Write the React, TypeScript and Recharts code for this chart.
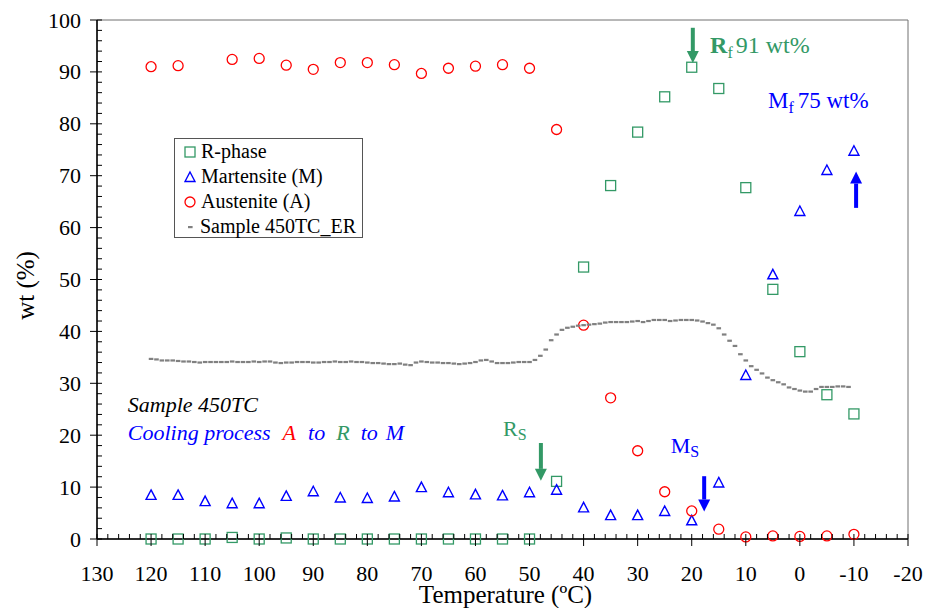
import React from 'react';
import {
  ScatterChart,
  Scatter,
  XAxis,
  YAxis,
  ReferenceArea,
  ReferenceDot,
  ReferenceLine,
  Legend,
} from 'recharts';

const FONT = '"Liberation Serif", "Times New Roman", serif';
const GREEN = '#339966';
const BLUE = '#0000ff';
const RED = '#ff0000';
const GRAY = '#808080';

// phase fractions, every 5 ºC on cooling
const temps = [120, 115, 110, 105, 100, 95, 90, 85, 80, 75, 70, 65, 60, 55, 50, 45, 40, 35, 30, 25, 20, 15, 10, 5, 0, -5, -10];
const rPhase = [0, 0, 0, 0.3, 0, 0.2, 0, 0, 0, 0, 0, 0, 0, 0, 0, 11.1, 52.4, 68.1, 78.4, 85.2, 90.9, 86.8, 67.7, 48.1, 36.1, 27.8, 24.1];
const martensite = [8.5, 8.5, 7.3, 6.9, 6.9, 8.3, 9.2, 8.0, 7.9, 8.2, 10.0, 9.0, 8.6, 8.4, 9.0, 9.5, 6.1, 4.6, 4.6, 5.4, 3.6, 10.9, 31.6, 51.0, 63.2, 71.1, 74.8];
const austenite = [91.0, 91.2, null, 92.4, 92.6, 91.3, 90.5, 91.8, 91.8, 91.4, 89.7, 90.7, 91.1, 91.4, 90.7, 78.9, 41.2, 27.2, 17.0, 9.1, 5.4, 1.9, 0.4, 0.6, 0.5, 0.6, 0.9];

// electrical resistance curve of sample 450TC_ER (scaled), 1 ºC steps from 120 down to -9
const erTemps = Array.from({ length: 130 }, (_, i) => 120 - i);
const erValues = [
  34.7, 34.6, 34.4, 34.4, 34.4, 34.3, 34.2, 34.2, 34.1, 34.0,
  34.1, 34.1, 34.1, 34.1, 34.1, 34.2, 34.1, 34.1, 34.1, 34.2,
  34.1, 34.2, 34.2, 34.0, 33.9, 34.0, 34.0, 34.1, 34.1, 34.1,
  34.0, 34.0, 34.1, 34.1, 34.2, 34.1, 34.1, 34.2, 34.1, 34.1,
  34.0, 33.9, 33.9, 33.8, 33.7, 33.7, 33.8, 33.6, 33.5, 34.0,
  34.2, 34.1, 34.0, 34.0, 33.9, 33.9, 33.8, 33.7, 33.8, 33.9,
  34.1, 34.4, 34.5, 34.2, 33.9, 33.9, 33.9, 34.0, 34.1, 34.1,
  34.1, 34.5, 35.3, 36.5, 38.3, 39.4, 40.3, 40.7, 40.9, 41.1,
  41.2, 41.3, 41.4, 41.5, 41.7, 41.8, 41.8, 41.8, 41.8, 41.9,
  42.0, 41.8, 42.0, 42.2, 42.2, 42.2, 42.0, 42.1, 42.2, 42.2,
  42.2, 42.1, 41.9, 41.6, 41.3, 40.6, 39.4, 38.2, 37.2, 35.6,
  34.4, 33.3, 32.6, 31.9, 31.1, 30.6, 30.2, 29.8, 29.2, 28.9,
  28.6, 28.4, 28.4, 28.9, 29.3, 29.3, 29.3, 29.4, 29.4, 29.3,
];

const xTicks = Array.from({ length: 76 }, (_, i) => -20 + 2 * i);
const yTicks = Array.from({ length: 51 }, (_, i) => 2 * i);

const rData = temps.map((t, i) => ({ t, v: rPhase[i] }));
const mData = temps.map((t, i) => ({ t, v: martensite[i] }));
const aData = temps.map((t, i) => ({ t, v: austenite[i] })).filter((d) => d.v !== null);
const erData = erTemps.map((t, i) => ({ t, v: erValues[i] }));

// annotation arrows: [x, from y, to y (tip)]
const arrows: [number, number, number, string][] = [
  [47.9, 18.5, 11.2, GREEN],
  [17.7, 12.1, 5.3, BLUE],
  [19.8, 98.5, 91.7, GREEN],
  [-10.4, 63.8, 70.8, BLUE],
];

const square = (p: any) => (
  <rect x={p.cx - 5} y={p.cy - 5} width={10} height={10} fill="none" stroke={GREEN} strokeWidth={1.3} />
);
const triangle = (p: any) => (
  <polygon
    points={`${p.cx},${p.cy - 5} ${p.cx + 5},${p.cy + 4.5} ${p.cx - 5},${p.cy + 4.5}`}
    fill="none"
    stroke={BLUE}
    strokeWidth={1.4}
  />
);
const circle = (p: any) => <circle cx={p.cx} cy={p.cy} r={5} fill="none" stroke={RED} strokeWidth={1.3} />;
const dash = (p: any) => <rect x={p.cx - 2.3} y={p.cy - 1.1} width={4.6} height={2.2} fill={GRAY} />;

function XTick(props: any) {
  const { x, y, payload } = props;
  const v = payload.value;
  if (v % 10 !== 0) return <line x1={x} x2={x} y1={y} y2={y - 5} stroke="#000" />;
  return (
    <g>
      <line x1={x} x2={x} y1={y - 5} y2={y + 7} stroke="#000" />
      <text x={x} y={y + 42} textAnchor="middle" fontSize={22} fontFamily={FONT} fill="#000">
        {v}
      </text>
    </g>
  );
}

function YTick(props: any) {
  const { x, y, payload } = props;
  const v = payload.value;
  if (v % 10 !== 0) return <line x1={x} x2={x + 5} y1={y} y2={y} stroke="#000" />;
  return (
    <g>
      <line x1={x - 7} x2={x + 5} y1={y} y2={y} stroke="#000" />
      <text x={x - 16} y={y + 7.5} textAnchor="end" fontSize={22} fontFamily={FONT} fill="#000">
        {v}
      </text>
    </g>
  );
}

const arrowShape = (color: string) => (p: any) => {
  const { x1, y1, x2, y2 } = p;
  const dir = Math.sign(y2 - y1);
  const base = y2 - dir * 12;
  return (
    <g>
      <line x1={x1} y1={y1} x2={x2} y2={base} stroke={color} strokeWidth={4} />
      <polygon points={`${x2 - 6},${base} ${x2 + 6},${base} ${x2},${y2}`} fill={color} />
    </g>
  );
};

function LegendBox() {
  const rows: [string, React.ReactNode][] = [
    ['R-phase', <rect x={1} y={2} width={10} height={10} fill="none" stroke={GREEN} strokeWidth={1.3} />],
    ['Martensite (M)', <polygon points="6,2 11,11.5 1,11.5" fill="none" stroke={BLUE} strokeWidth={1.4} />],
    ['Austenite (A)', <circle cx={6} cy={7} r={5} fill="none" stroke={RED} strokeWidth={1.3} />],
    ['Sample 450TC_ER', <rect x={4} y={6} width={4.6} height={2.2} fill={GRAY} />],
  ];
  return (
    <div
      style={{
        boxSizing: 'border-box',
        border: '1px solid #555',
        background: '#fff',
        padding: '0 6px 0 9px',
        fontFamily: FONT,
        fontSize: 20,
        lineHeight: '25px',
        width: 189,
        height: 100,
        color: '#000',
      }}
    >
      {rows.map(([name, mark]) => (
        <div key={name} style={{ display: 'flex', alignItems: 'center', whiteSpace: 'nowrap', height: 25 }}>
          <svg width={12} height={14} style={{ marginRight: 5 }}>
            {mark}
          </svg>
          <span>{name}</span>
        </div>
      ))}
    </div>
  );
}

export default function App() {
  return (
    <div style={{ position: 'absolute', left: 0, top: 0, width: 928, height: 608, background: '#fff' }}>
      <ScatterChart width={928} height={608} margin={{ top: 20, right: 20, bottom: 0, left: 0 }} style={{ fontFamily: FONT }}>
        <ReferenceArea x1={-20} x2={130} y1={0} y2={100} fill="none" stroke="#707070" strokeWidth={1} />
        <XAxis
          type="number"
          dataKey="t"
          domain={[-20, 130]}
          reversed
          ticks={xTicks}
          interval={0}
          tickSize={0}
          tickMargin={0}
          tick={<XTick />}
          height={69}
          axisLine={{ stroke: '#000', strokeWidth: 1.5 }}
          label={{
            content: (p: any) => {
              const vb = p.viewBox;
              return (
                <text x={vb.x + vb.width / 2 + 3} y={vb.y + vb.height - 5} textAnchor="middle" fontSize={25} fontFamily={FONT} fill="#000">
                  Temperature (ºC)
                </text>
              );
            },
          }}
        />
        <YAxis
          type="number"
          dataKey="v"
          domain={[0, 100]}
          ticks={yTicks}
          interval={0}
          tickSize={0}
          tickMargin={0}
          tick={<YTick />}
          width={97}
          axisLine={{ stroke: '#000', strokeWidth: 1.5 }}
          label={{
            content: (p: any) => {
              const vb = p.viewBox;
              const cx = vb.x + 34;
              const cy = vb.y + vb.height / 2 + 6;
              return (
                <text x={cx} y={cy} transform={`rotate(-90, ${cx}, ${cy})`} textAnchor="middle" fontSize={25} fontFamily={FONT} fill="#000">
                  wt (%)
                </text>
              );
            },
          }}
        />
        <Legend
          layout="vertical"
          align="center"
          verticalAlign="middle"
          wrapperStyle={{ left: 174, top: 138, width: 'auto', height: 'auto' }}
          content={() => <LegendBox />}
        />
        <Scatter name="R-phase" data={rData} shape={square} isAnimationActive={false} />
        <Scatter name="Martensite (M)" data={mData} shape={triangle} isAnimationActive={false} />
        <Scatter name="Austenite (A)" data={aData} shape={circle} isAnimationActive={false} />
        <Scatter name="Sample 450TC_ER" data={erData} shape={dash} isAnimationActive={false} />

        {arrows.map(([x, from, to, color], i) => (
          <ReferenceLine key={i} segment={[{ x, y: from }, { x, y: to }]} shape={arrowShape(color)} />
        ))}

        <ReferenceDot
          x={124.3}
          y={24.5}
          shape={(p: any) => (
            <text x={p.cx} y={p.cy} fontSize={22} fontStyle="italic" fontFamily={FONT} fill="#000">
              Sample 450TC
            </text>
          )}
        />
        <ReferenceDot
          x={124.3}
          y={19.1}
          shape={(p: any) => (
            <text x={p.cx} y={p.cy} fontSize={22} fontStyle="italic" fontFamily={FONT}>
              <tspan fill={BLUE}>Cooling process</tspan>
              <tspan dx={12} fill={RED}>A</tspan>
              <tspan dx={12} fill={BLUE}>to</tspan>
              <tspan dx={11} fill={GREEN}>R</tspan>
              <tspan dx={11} fill={BLUE}>to</tspan>
              <tspan dx={8} fill={BLUE}>M</tspan>
            </text>
          )}
        />
        <ReferenceDot
          x={54.9}
          y={19.8}
          shape={(p: any) => (
            <text x={p.cx} y={p.cy} fontSize={22} fontFamily={FONT} fill={GREEN}>
              <tspan>R</tspan>
              <tspan fontSize={16} dy={4}>S</tspan>
            </text>
          )}
        />
        <ReferenceDot
          x={23.9}
          y={16.5}
          shape={(p: any) => (
            <text x={p.cx} y={p.cy} fontSize={22} fontFamily={FONT} fill={BLUE}>
              <tspan>M</tspan>
              <tspan fontSize={16} dy={4}>S</tspan>
            </text>
          )}
        />
        <ReferenceDot
          x={16.6}
          y={93.6}
          shape={(p: any) => (
            <text x={p.cx} y={p.cy} fontSize={24} fontFamily={FONT} fill={GREEN}>
              <tspan fontWeight="bold">R</tspan>
              <tspan fontSize={16} dy={5}>f</tspan>
              <tspan dx={3} dy={-5}>91 wt%</tspan>
            </text>
          )}
        />
        <ReferenceDot
          x={5.9}
          y={83.0}
          shape={(p: any) => (
            <text x={p.cx} y={p.cy} fontSize={23} fontFamily={FONT} fill={BLUE}>
              <tspan>M</tspan>
              <tspan fontSize={16} dy={5}>f</tspan>
              <tspan dx={4} dy={-5}>75 wt%</tspan>
            </text>
          )}
        />
      </ScatterChart>
    </div>
  );
}
